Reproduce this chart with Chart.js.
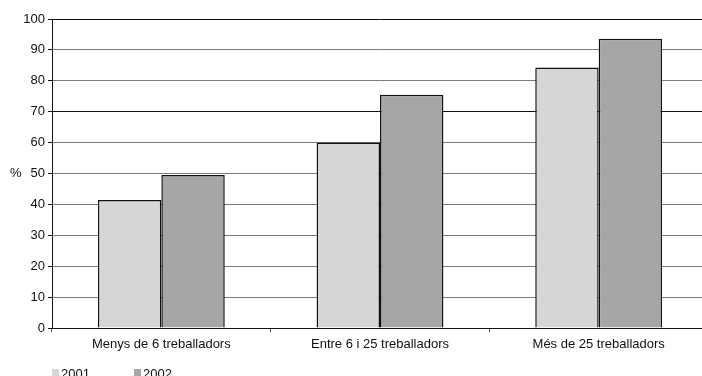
<!DOCTYPE html>
<html>
<head>
<meta charset="utf-8">
<script src="https://cdn.jsdelivr.net/npm/chart.js@4"></script>
<style>
  html, body { margin: 0; padding: 0; background: #fff; overflow: hidden; }
  #wrap { width: 708px; height: 376px; }
</style>
</head>
<body>
<div id="wrap"><canvas id="myChart" width="708" height="376"></canvas></div>
<script>
const categories = ["Menys de 6 treballadors", "Entre 6 i 25 treballadors", "Més de 25 treballadors"];
const values2001 = [41.4, 60.0, 84.3];
const values2002 = [49.5, 75.5, 93.6];
const yTicks = [0, 10, 20, 30, 40, 50, 60, 70, 80, 90, 100];
const seriesNames = ["2001", "2002"];
const seriesColors = ["#d6d6d6", "#a6a6a6"];

const FONT = "'Liberation Sans', Arial, sans-serif";
const ctx = document.getElementById("myChart");

// "%" label next to the axis and the small legend at the bottom left
const extras = {
  id: "extras",
  afterDraw(chart) {
    const c = chart.ctx;
    const y = chart.scales.y;
    c.save();
    c.font = "13px " + FONT;
    c.fillStyle = "#111";
    c.textBaseline = "middle";
    c.textAlign = "left";
    c.fillText("%", 10, y.getPixelForValue(50));
    let x = 52;
    seriesNames.forEach((name, i) => {
      c.fillStyle = seriesColors[i];
      c.fillRect(x, 369, 7, 7);
      c.fillStyle = "#111";
      c.fillText(name, x + 9, 374);
      x += 82;
    });
    c.restore();
  }
};

new Chart(ctx, {
  type: "bar",
  data: {
    labels: categories,
    datasets: seriesNames.map((name, i) => ({
      label: name,
      data: i === 0 ? values2001 : values2002,
      backgroundColor: seriesColors[i],
      borderColor: "#111",
      borderWidth: 1.5,
      borderSkipped: "bottom",
      categoryPercentage: 0.58,
      barPercentage: 1.0
    }))
  },
  options: {
    responsive: false,
    animation: false,
    layout: { padding: { top: 19, left: 0, right: 0, bottom: 0 } },
    plugins: {
      legend: { display: false },
      tooltip: { enabled: false }
    },
    scales: {
      x: {
        grid: {
          offset: true,
          drawOnChartArea: false,
          drawTicks: true,
          tickLength: 4,
          color: "#555"
        },
        border: { color: "#111", width: 1 },
        ticks: {
          color: "#111",
          padding: 5,
          maxRotation: 0,
          font: { family: FONT, size: 13 }
        },
        afterFit(scale) { scale.height = 48; }
      },
      y: {
        min: 0,
        max: 100,
        afterBuildTicks(scale) { scale.ticks = yTicks.map(v => ({ value: v })); },
        grid: {
          color: (c) => (c.tick && (c.tick.value === 70 || c.tick.value === 100)) ? "#111" : "#7a7a7a",
          lineWidth: 1,
          tickLength: 4,
          tickColor: "#111"
        },
        border: { color: "#111", width: 1 },
        ticks: {
          color: "#111",
          padding: 3,
          font: { family: FONT, size: 13 }
        },
        afterFit(scale) { scale.width = 52; }
      }
    }
  },
  plugins: [extras]
});
</script>
</body>
</html>
